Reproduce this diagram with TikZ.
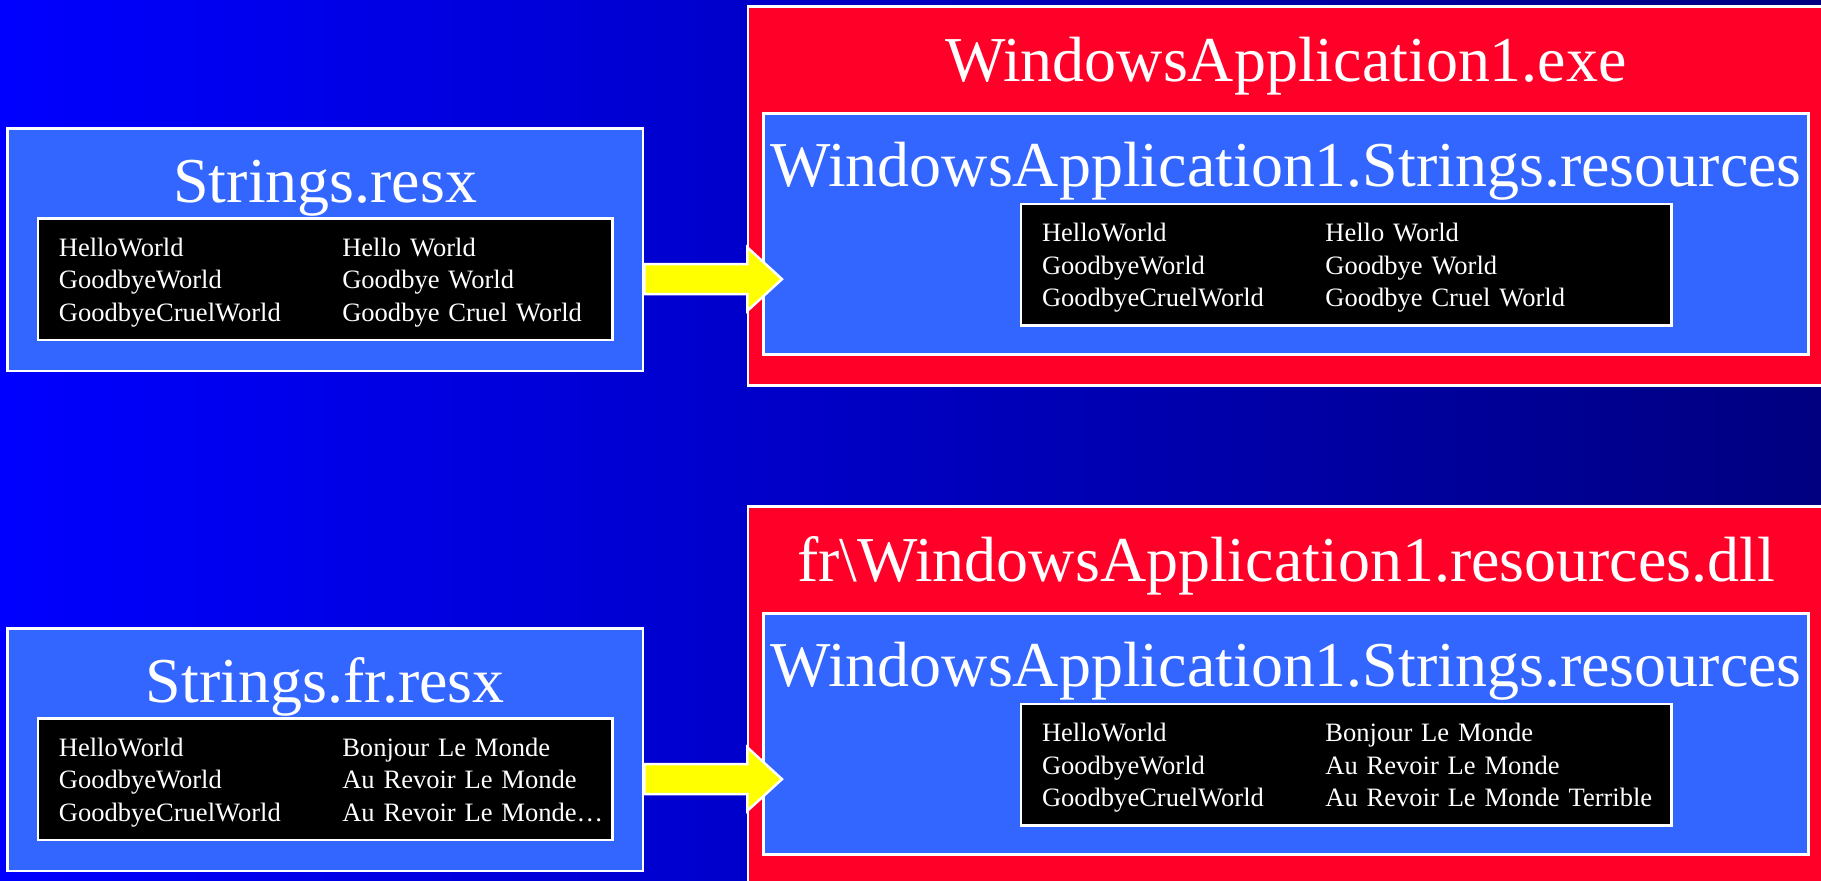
\documentclass[tikz,border=0pt]{standalone}
\usepackage{fontspec}
\setmainfont{Liberation Serif}
\definecolor{bgleft}{RGB}{0,0,255}
\definecolor{bgright}{RGB}{0,0,128}
\definecolor{resblue}{RGB}{51,102,255}
\definecolor{asmred}{RGB}{255,0,40}
\definecolor{arrowyellow}{RGB}{255,255,0}
\newcommand{\strrow}[2]{\makebox[2.834cm][l]{#1}\mbox{#2}}
\begin{document}
\begin{tikzpicture}[
  box/.style={rectangle, draw=white, line width=0.7pt, inner sep=0pt},
  resxbox/.style={box, fill=resblue, minimum width=6.355cm, minimum height=2.425cm},
  asmbox/.style={box, fill=asmred, minimum width=10.82cm, minimum height=3.79cm},
  resbox/.style={box, fill=resblue, minimum width=10.45cm, minimum height=2.41cm},
  strtable/.style={box, fill=black, text=white, align=left, inner xsep=0.21cm, minimum height=1.217cm, text depth=18.1pt, font=\fontsize{7.55}{9.2}\selectfont},
  title/.style={text=white, inner sep=0pt, text height=0.7em, text depth=0.22em, font=\fontsize{18.2}{20}\selectfont},
  fatarrow/.style={draw=white, line width=0.7pt, fill=arrowyellow, line join=miter},
  node distance=1cm
]
\useasboundingbox (0,0) rectangle (18.21,8.81);
\shade[left color=bgleft, right color=bgright] (0,0) rectangle (18.21,8.81);

\node[resxbox] (resx) at (3.253,6.3125) {};
\node[strtable, text width=5.328cm, below of=resx, node distance=0.294cm] (resxtbl) {\strrow{HelloWorld}{Hello World}\\\strrow{GoodbyeWorld}{Goodbye World}\\\strrow{GoodbyeCruelWorld}{Goodbye Cruel World}};
\node[title, above of=resxtbl, node distance=0.85cm] (resxtitle) {Strings.resx};

\node[resxbox, below of=resx, node distance=5cm] (frresx) {};
\node[strtable, text width=5.328cm, below of=frresx, node distance=0.294cm] (frresxtbl) {\strrow{HelloWorld}{Bonjour Le Monde}\\\strrow{GoodbyeWorld}{Au Revoir Le Monde}\\\strrow{GoodbyeCruelWorld}{Au Revoir Le Monde…}};
\node[title, above of=frresxtbl, node distance=0.85cm] (frresxtitle) {Strings.fr.resx};

\node[asmbox, right of=resx, node distance=9.637cm, yshift=0.5355cm] (exe) {};
\node[resbox, below of=exe, node distance=0.378cm, xshift=-0.03cm] (exeres) {};
\node[strtable, text width=6.083cm, below of=exeres, node distance=0.306cm, xshift=0.6015cm] (exetbl) {\strrow{HelloWorld}{Hello World}\\\strrow{GoodbyeWorld}{Goodbye World}\\\strrow{GoodbyeCruelWorld}{Goodbye Cruel World}};
\node[title, above of=exeres, node distance=1.614cm] (exetitle) {WindowsApplication1.exe};
\node[title, above of=exeres, node distance=0.559cm] (exerestitle) {WindowsApplication1.Strings.resources};

\node[asmbox, below of=exe, node distance=5cm] (dll) {};
\node[resbox, below of=dll, node distance=0.378cm, xshift=-0.03cm] (dllres) {};
\node[strtable, text width=6.083cm, below of=dllres, node distance=0.306cm, xshift=0.6015cm] (dlltbl) {\strrow{HelloWorld}{Bonjour Le Monde}\\\strrow{GoodbyeWorld}{Au Revoir Le Monde}\\\strrow{GoodbyeCruelWorld}{Au Revoir Le Monde Terrible}};
\node[title, above of=dllres, node distance=1.614cm] (dlltitle) {fr\textbackslash WindowsApplication1.resources.dll};
\node[title, above of=dllres, node distance=0.559cm] (dllrestitle) {WindowsApplication1.Strings.resources};

\draw[fatarrow] (resx.east |- resxtbl.center) ++(0,0.15) -- ++(1.03,0) -- ++(0,0.168) -- ++(0.347,-0.318) -- ++(-0.347,-0.318) -- ++(0,0.168) -- ++(-1.03,0) -- cycle;
\draw[fatarrow] (frresx.east |- frresxtbl.center) ++(0,0.15) -- ++(1.03,0) -- ++(0,0.168) -- ++(0.347,-0.318) -- ++(-0.347,-0.318) -- ++(0,0.168) -- ++(-1.03,0) -- cycle;
\end{tikzpicture}
\end{document}
